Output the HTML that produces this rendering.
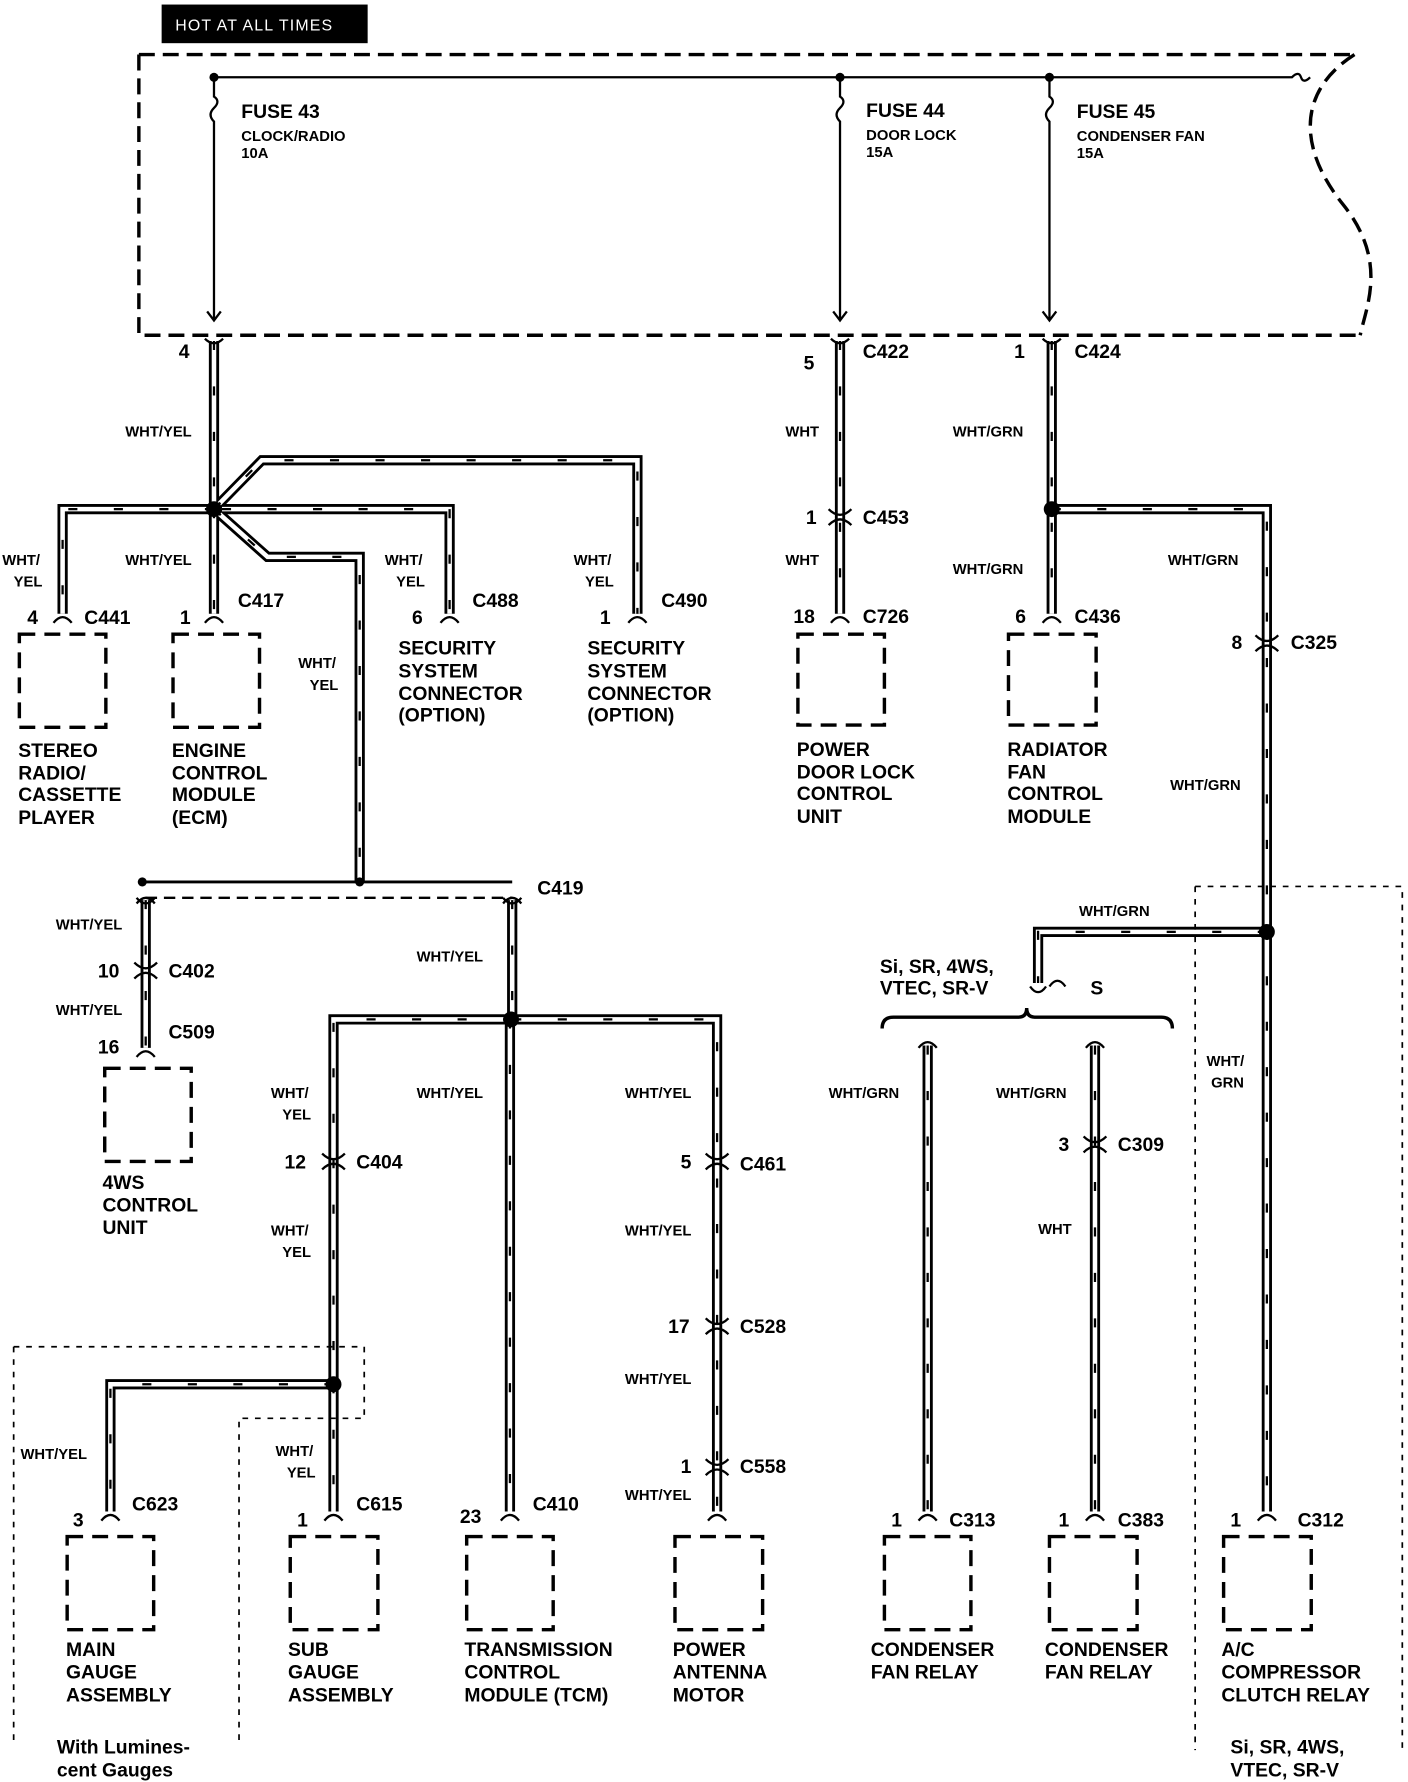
<!DOCTYPE html>
<html><head><meta charset="utf-8"><style>
html,body{margin:0;padding:0;background:#fff}
svg{display:block}
text{font-family:"Liberation Sans",sans-serif;font-weight:bold;fill:#000}
.b{font-size:17px}
.s{font-size:13px}
.m{font-size:17px;font-weight:normal}
</style></head><body>
<svg width="1408" height="1782" viewBox="0 0 1237 1568" preserveAspectRatio="none" xmlns="http://www.w3.org/2000/svg">
<defs>
<g id="w" fill="none">
<path d="M188 300V448"/>
<path d="M188 448H55V540"/>
<path d="M188 448V540"/>
<path d="M188 448L230 405H560V540"/>
<path d="M195 448H395V540"/>
<path d="M188 448L235 490H316V775"/>
<path d="M128 792V922"/>
<path d="M450 792V897"/>
<path d="M450 897H293V1218"/>
<path d="M293 1218H97V1330"/>
<path d="M293 1218V1330"/>
<path d="M448 897V1330"/>
<path d="M450 897H630V1330"/>
<path d="M738 300V540"/>
<path d="M924 300V540"/>
<path d="M924 448H1113V1330"/>
<path d="M1113 820H912V865"/>
<path d="M815 920V1330"/>
<path d="M962 920V1330"/>
</g>
</defs>
<use href="#w" stroke="#000" stroke-width="9"/>
<use href="#w" stroke="#fff" stroke-width="4"/>
<use href="#w" stroke="#000" stroke-width="2" stroke-dasharray="8 32"/>

<rect x="142" y="4" width="181" height="34" fill="#000"/>
<text x="154" y="27" class="s" style="fill:#fff;font-weight:normal;font-size:14px;letter-spacing:1px">HOT AT ALL TIMES</text>
<g fill="none" stroke="#000" stroke-width="3" stroke-dasharray="14 7">
<path d="M122 48H1190M122 48V295H1195"/>
<path d="M1190 48C1140 80 1140 130 1180 180C1220 230 1200 270 1195 295"/>
</g>
<g fill="none" stroke="#000" stroke-width="2">
<path d="M188 68H1135q6 -6 8 0 q2 6 8 0"/>
<path d="M188 68V85q6 4 0 10 q-6 6 0 12V282M182 274l6 8l6-8"/>
<path d="M738 68V85q6 4 0 10 q-6 6 0 12V282M732 274l6 8l6-8"/>
<path d="M922 68V85q6 4 0 10 q-6 6 0 12V282M916 274l6 8l6-8"/>
</g>
<circle cx="188" cy="68" r="4"/><circle cx="738" cy="68" r="4"/><circle cx="922" cy="68" r="4"/>
<text x="212" y="104" class="b">FUSE 43</text><text x="212" y="124" class="s">CLOCK/RADIO</text><text x="212" y="139" class="s">10A</text>
<text x="761" y="103" class="b">FUSE 44</text><text x="761" y="123" class="s">DOOR LOCK</text><text x="761" y="138" class="s">15A</text>
<text x="946" y="104" class="b">FUSE 45</text><text x="946" y="124" class="s">CONDENSER FAN</text><text x="946" y="139" class="s">15A</text>

<g fill="none" stroke="#000" stroke-width="2">
<path d="M180 298q8 8 16 0M730 298q8 8 16 0M916 298q8 8 16 0"/>
<path d="M47 548q8 -10 16 0M180 548q8 -10 16 0M387 548q8 -10 16 0M552 548q8 -10 16 0M730 548q8 -10 16 0M916 548q8 -10 16 0"/>
<path d="M120 795q8 -10 16 0M442 795q8 -10 16 0M120 930q8 -10 16 0"/>
<path d="M89 1338q8 -10 16 0M285 1338q8 -10 16 0M440 1338q8 -10 16 0M622 1338q8 -10 16 0M807 1338q8 -10 16 0M954 1338q8 -10 16 0M1105 1338q8 -10 16 0"/>
<path d="M728 448q10 10 20 0M728 462q10 -10 20 0M1103 559q10 10 20 0M1103 573q10 -10 20 0M118 847q10 10 20 0M118 861q10 -10 20 0M283 1015q10 10 20 0M283 1029q10 -10 20 0M620 1015q10 10 20 0M620 1029q10 -10 20 0M620 1160q10 10 20 0M620 1174q10 -10 20 0M620 1284q10 10 20 0M620 1298q10 -10 20 0M952 1000q10 10 20 0M952 1014q10 -10 20 0"/>
<path d="M125 776H450" stroke-width="2.5"/>
<path d="M128 790H450" stroke-dasharray="10 6"/>
<path d="M120 790q8 10 16 0M442 790q8 10 16 0"/>
<path d="M905 868q7 10 14 0M922 868q7 -10 14 0"/>
<path d="M775 905q0 -10 10 -10H895q7 0 7 -8q0 8 7 8H1020q10 0 10 10" stroke-width="3"/>
<path d="M807 922q8 -10 16 0M954 922q8 -10 16 0"/>
</g>
<circle cx="188" cy="448" r="7"/><circle cx="316" cy="776" r="4"/><circle cx="125" cy="776" r="4"/>
<circle cx="449" cy="897" r="7"/><circle cx="293" cy="1218" r="7"/><circle cx="924" cy="448" r="7"/><circle cx="1113" cy="820" r="7"/>

<g fill="none" stroke="#000" stroke-width="3" stroke-dasharray="14 8">
<rect x="17" y="558" width="76" height="82"/><rect x="152" y="558" width="76" height="82"/>
<rect x="701" y="558" width="76" height="80"/><rect x="886" y="558" width="77" height="80"/>
<rect x="92" y="940" width="76" height="82"/>
<rect x="59" y="1352" width="76" height="82"/><rect x="255" y="1352" width="77" height="82"/>
<rect x="410" y="1352" width="76" height="82"/><rect x="593" y="1352" width="77" height="82"/>
<rect x="777" y="1352" width="76" height="82"/><rect x="922" y="1352" width="77" height="82"/><rect x="1075" y="1352" width="77" height="82"/>
</g>
<g fill="none" stroke="#000" stroke-width="1.5" stroke-dasharray="5 6">
<path d="M12 1185H320V1248H210V1535M12 1185V1535"/>
<path d="M1050 780H1232V1540M1050 780V1540"/>
</g>

<g class="s">
<text x="110" y="384" class="s">WHT/YEL</text>
<text x="2" y="497" class="s">WHT/</text><text x="12" y="516" class="s">YEL</text>
<text x="110" y="497" class="s">WHT/YEL</text>
<text x="338" y="497" class="s">WHT/</text><text x="348" y="516" class="s">YEL</text>
<text x="504" y="497" class="s">WHT/</text><text x="514" y="516" class="s">YEL</text>
<text x="262" y="588" class="s">WHT/</text><text x="272" y="607" class="s">YEL</text>
<text x="690" y="384" class="s">WHT</text><text x="690" y="497" class="s">WHT</text>
<text x="837" y="384" class="s">WHT/GRN</text><text x="837" y="505" class="s">WHT/GRN</text>
<text x="1026" y="497" class="s">WHT/GRN</text><text x="1028" y="695" class="s">WHT/GRN</text>
<text x="948" y="806" class="s">WHT/GRN</text>
<text x="49" y="818" class="s">WHT/YEL</text><text x="49" y="893" class="s">WHT/YEL</text>
<text x="366" y="846" class="s">WHT/YEL</text>
<text x="238" y="966" class="s">WHT/</text><text x="248" y="985" class="s">YEL</text>
<text x="366" y="966" class="s">WHT/YEL</text><text x="549" y="966" class="s">WHT/YEL</text>
<text x="238" y="1087" class="s">WHT/</text><text x="248" y="1106" class="s">YEL</text>
<text x="549" y="1087" class="s">WHT/YEL</text><text x="549" y="1218" class="s">WHT/YEL</text>
<text x="549" y="1320" class="s">WHT/YEL</text>
<text x="18" y="1284" class="s">WHT/YEL</text>
<text x="242" y="1281" class="s">WHT/</text><text x="252" y="1300" class="s">YEL</text>
<text x="728" y="966" class="s">WHT/GRN</text><text x="875" y="966" class="s">WHT/GRN</text>
<text x="912" y="1086" class="s">WHT</text>
<text x="1060" y="938" class="s">WHT/</text><text x="1064" y="957" class="s">GRN</text>
</g>

<g class="b">
<text x="157" y="315">4</text>
<text x="706" y="325">5</text><text x="758" y="315">C422</text>
<text x="891" y="315">1</text><text x="944" y="315">C424</text>
<text x="708" y="461">1</text><text x="758" y="461">C453</text>
<text x="24" y="549">4</text><text x="74" y="549">C441</text>
<text x="158" y="549">1</text><text x="209" y="534">C417</text>
<text x="362" y="549">6</text><text x="415" y="534">C488</text>
<text x="527" y="549">1</text><text x="581" y="534">C490</text>
<text x="697" y="548">18</text><text x="758" y="548">C726</text>
<text x="892" y="548">6</text><text x="944" y="548">C436</text>
<text x="1082" y="571">8</text><text x="1134" y="571">C325</text>
<text x="472" y="787">C419</text>
<text x="86" y="860">10</text><text x="148" y="860">C402</text>
<text x="86" y="927">16</text><text x="148" y="914">C509</text>
<text x="250" y="1028">12</text><text x="313" y="1028">C404</text>
<text x="598" y="1028">5</text><text x="650" y="1030">C461</text>
<text x="587" y="1173">17</text><text x="650" y="1173">C528</text>
<text x="598" y="1296">1</text><text x="650" y="1296">C558</text>
<text x="930" y="1013">3</text><text x="982" y="1013">C309</text>
<text x="64" y="1343">3</text><text x="116" y="1329">C623</text>
<text x="261" y="1343">1</text><text x="313" y="1329">C615</text>
<text x="404" y="1340">23</text><text x="468" y="1329">C410</text>
<text x="783" y="1343">1</text><text x="834" y="1343">C313</text>
<text x="930" y="1343">1</text><text x="982" y="1343">C383</text>
<text x="1081" y="1343">1</text><text x="1140" y="1343">C312</text>
</g>

<g class="b">
<text x="350" y="576">SECURITY</text><text x="350" y="596">SYSTEM</text><text x="350" y="616">CONNECTOR</text><text x="350" y="635">(OPTION)</text>
<text x="516" y="576">SECURITY</text><text x="516" y="596">SYSTEM</text><text x="516" y="616">CONNECTOR</text><text x="516" y="635">(OPTION)</text>
<text x="16" y="666">STEREO</text><text x="16" y="686">RADIO/</text><text x="16" y="705">CASSETTE</text><text x="16" y="725">PLAYER</text>
<text x="151" y="666">ENGINE</text><text x="151" y="686">CONTROL</text><text x="151" y="705">MODULE</text><text x="151" y="725">(ECM)</text>
<text x="700" y="665">POWER</text><text x="700" y="685">DOOR LOCK</text><text x="700" y="704">CONTROL</text><text x="700" y="724">UNIT</text>
<text x="885" y="665">RADIATOR</text><text x="885" y="685">FAN</text><text x="885" y="704">CONTROL</text><text x="885" y="724">MODULE</text>
<text x="90" y="1046">4WS</text><text x="90" y="1066">CONTROL</text><text x="90" y="1086">UNIT</text>
<text x="58" y="1457">MAIN</text><text x="58" y="1477">GAUGE</text><text x="58" y="1497">ASSEMBLY</text>
<text x="253" y="1457">SUB</text><text x="253" y="1477">GAUGE</text><text x="253" y="1497">ASSEMBLY</text>
<text x="408" y="1457">TRANSMISSION</text><text x="408" y="1477">CONTROL</text><text x="408" y="1497">MODULE (TCM)</text>
<text x="591" y="1457">POWER</text><text x="591" y="1477">ANTENNA</text><text x="591" y="1497">MOTOR</text>
<text x="765" y="1457">CONDENSER</text><text x="765" y="1477">FAN RELAY</text>
<text x="918" y="1457">CONDENSER</text><text x="918" y="1477">FAN RELAY</text>
<text x="1073" y="1457">A/C</text><text x="1073" y="1477">COMPRESSOR</text><text x="1073" y="1497">CLUTCH RELAY</text>
</g>
<g class="m">
<text x="773" y="856">Si, SR, 4WS,</text><text x="773" y="875">VTEC, SR-V</text>
<text x="958" y="875">S</text>
<text x="50" y="1543">With Lumines-</text><text x="50" y="1563">cent Gauges</text>
<text x="1081" y="1543">Si, SR, 4WS,</text><text x="1081" y="1563">VTEC, SR-V</text>
</g>
</svg>
</body></html>
